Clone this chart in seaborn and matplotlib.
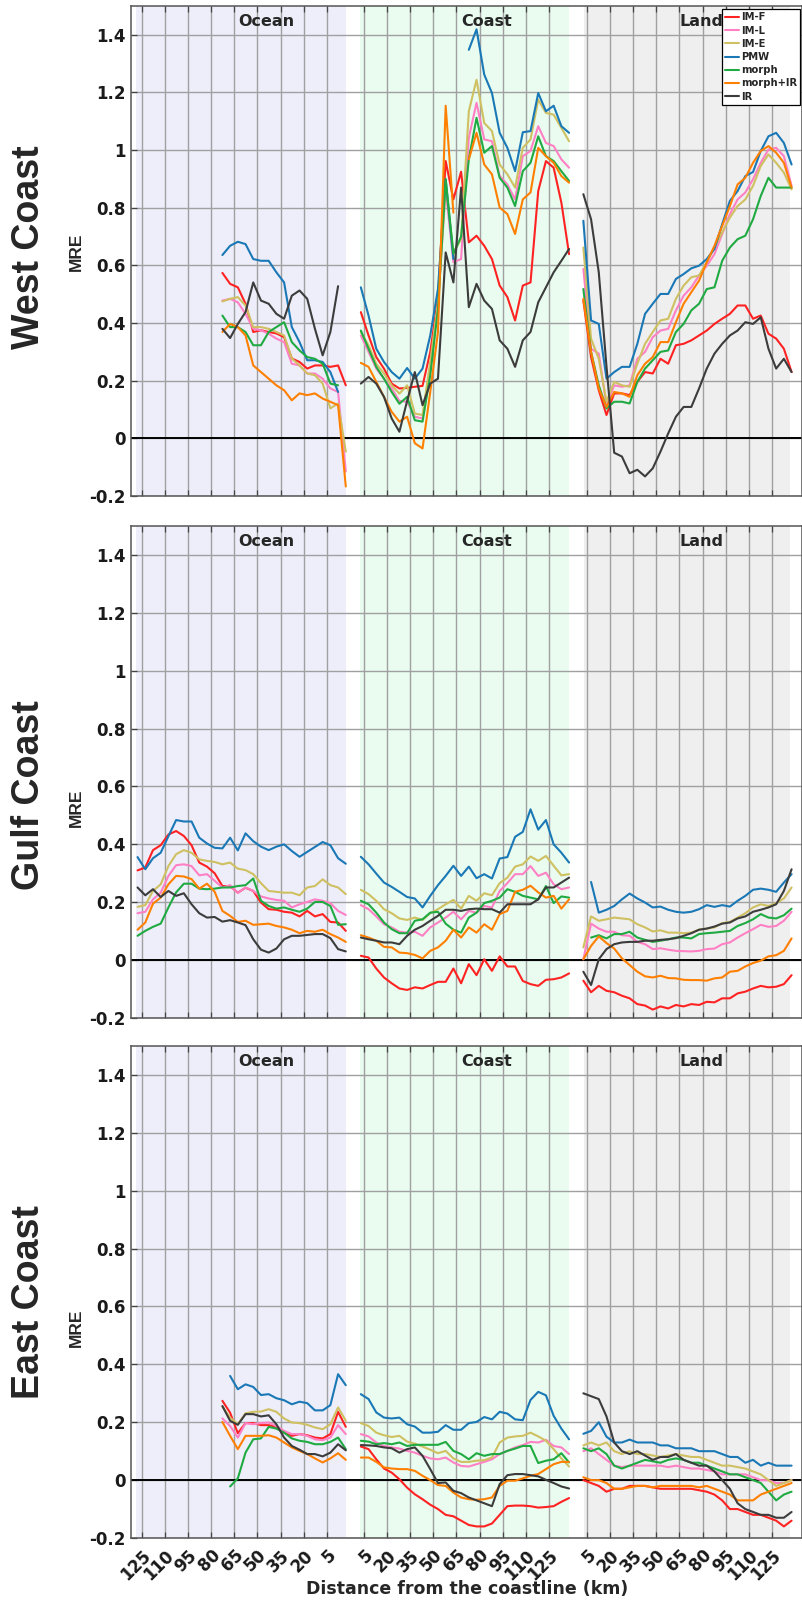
import matplotlib
matplotlib.use("Agg")
import matplotlib.pyplot as plt
import seaborn as sns
import pandas as pd
from matplotlib.lines import Line2D

N = None
PRODUCTS = ["IM-F", "IM-L", "IM-E", "PMW", "morph", "morph+IR", "IR"]
COLORS = ["#ff2222", "#ff80c4", "#cfc062", "#1a78b6", "#1faa42", "#ff8000", "#3c3c3c"]
PANELS = ["West Coast", "Gulf Coast", "East Coast"]
REGIONS = ["Ocean", "Coast", "Land"]
OCEAN_TICKS = [125, 110, 95, 80, 65, 50, 35, 20, 5]
SHORE_TICKS = [5, 20, 35, 50, 65, 80, 95, 110, 125]
YTICKS = [-0.2, 0, 0.2, 0.4, 0.6, 0.8, 1, 1.2, 1.4]
YTICKLABELS = ["-0.2", "0", "0.2", "0.4", "0.6", "0.8", "1", "1.2", "1.4"]
XLABEL = "Distance from the coastline (km)"
YLABEL = "MRE"

# ---------------- West Coast ----------------
WEST_OCEAN = {
    "IM-F": [N]*11 + [0.574, 0.536, 0.524, 0.467, 0.369, 0.375, 0.369, 0.364, 0.351, 0.277, 0.265, 0.242, 0.253, 0.253, 0.248, 0.253, 0.184],
    "IM-L": [N]*11 + [0.478, 0.484, 0.472, 0.432, 0.380, 0.375, 0.363, 0.346, 0.334, 0.259, 0.253, 0.225, 0.225, 0.207, 0.173, 0.161, -0.115],
    "IM-E": [N]*11 + [0.475, 0.484, 0.490, 0.461, 0.386, 0.386, 0.380, 0.369, 0.357, 0.277, 0.253, 0.225, 0.219, 0.190, 0.104, 0.121, -0.046],
    "PMW": [N]*11 + [0.636, 0.668, 0.682, 0.674, 0.622, 0.616, 0.616, 0.576, 0.541, 0.386, 0.334, 0.271, 0.271, 0.265, 0.230, 0.161, N],
    "morph": [N]*11 + [0.426, 0.386, 0.386, 0.369, 0.323, 0.323, 0.369, 0.386, 0.403, 0.334, 0.305, 0.282, 0.276, 0.259, 0.190, 0.184, N],
    "morph+IR": [N]*11 + [0.369, 0.397, 0.386, 0.357, 0.253, 0.230, 0.207, 0.184, 0.167, 0.132, 0.156, 0.150, 0.156, 0.138, 0.127, 0.115, -0.167],
    "IR": [N]*11 + [0.380, 0.348, 0.397, 0.438, 0.541, 0.478, 0.467, 0.432, 0.415, 0.495, 0.513, 0.484, 0.380, 0.288, 0.369, 0.528, N],
}
WEST_COAST = {
    "IM-F": [0.438, 0.357, 0.282, 0.242, 0.190, 0.173, 0.175, 0.179, 0.182, 0.300, 0.484, 0.962, 0.829, 0.925, 0.680, 0.703, 0.668, 0.622, 0.530, 0.490, 0.409, 0.530, 0.541, 0.858, 0.962, 0.939, 0.818, 0.639],
    "IM-L": [0.357, 0.300, 0.242, 0.207, 0.173, 0.130, 0.127, 0.075, 0.069, 0.253, 0.461, 0.864, 0.611, 0.622, 1.043, 1.164, 1.037, 1.031, 0.910, 0.881, 0.829, 0.979, 0.997, 1.083, 1.025, 1.014, 0.968, 0.939],
    "IM-E": [0.369, 0.323, 0.259, 0.225, 0.184, 0.155, 0.184, 0.086, 0.081, 0.265, 0.470, 0.876, 0.645, 0.691, 1.135, 1.244, 1.094, 1.066, 0.950, 0.916, 0.870, 1.008, 1.037, 1.175, 1.129, 1.123, 1.077, 1.031],
    "PMW": [0.524, 0.426, 0.311, 0.265, 0.230, 0.207, 0.244, 0.207, 0.242, 0.357, 0.518, 0.899, 0.622, N, 1.348, 1.419, 1.262, 1.198, 1.060, 1.008, 0.927, 1.062, 1.066, 1.198, 1.135, 1.154, 1.083, 1.060],
    "morph": [0.374, 0.311, 0.248, 0.207, 0.161, 0.120, 0.144, 0.063, 0.058, 0.219, 0.449, 0.899, 0.640, 0.700, 0.968, 1.112, 0.991, 1.014, 0.904, 0.870, 0.806, 0.927, 0.956, 1.048, 0.979, 0.962, 0.927, 0.893],
    "morph+IR": [0.262, 0.248, 0.196, 0.144, 0.092, 0.058, 0.075, -0.017, -0.035, 0.161, 0.369, 1.154, 0.783, N, 0.968, 1.060, 0.950, 0.916, 0.801, 0.778, 0.709, 0.829, 0.853, 1.008, 0.979, 0.956, 0.910, 0.887],
    "IR": [0.190, 0.213, 0.190, 0.144, 0.069, 0.023, 0.130, 0.230, 0.115, 0.190, 0.207, 0.645, 0.541, 0.870, 0.455, 0.536, 0.478, 0.449, 0.340, 0.311, 0.248, 0.340, 0.369, 0.472, 0.524, 0.576, 0.616, 0.657],
}
WEST_LAND = {
    "IM-F": [0.478, 0.282, 0.167, 0.081, 0.156, 0.156, 0.150, 0.196, 0.230, 0.225, 0.276, 0.259, 0.323, 0.328, 0.340, 0.357, 0.374, 0.397, 0.415, 0.432, 0.461, 0.461, 0.415, 0.426, 0.363, 0.346, 0.311, 0.230],
    "IM-L": [0.588, 0.311, 0.294, 0.115, 0.184, 0.179, 0.184, 0.276, 0.300, 0.351, 0.374, 0.380, 0.444, 0.495, 0.524, 0.565, 0.599, 0.639, 0.709, 0.778, 0.829, 0.853, 0.899, 0.956, 1.002, 1.008, 0.979, 0.876],
    "IM-E": [0.662, 0.346, 0.276, 0.127, 0.196, 0.184, 0.179, 0.259, 0.328, 0.369, 0.409, 0.415, 0.484, 0.530, 0.559, 0.565, 0.611, 0.662, 0.714, 0.766, 0.806, 0.829, 0.876, 0.945, 0.985, 0.956, 0.922, 0.864],
    "PMW": [0.755, 0.409, 0.397, 0.207, 0.230, 0.248, 0.248, 0.328, 0.432, 0.467, 0.501, 0.501, 0.553, 0.570, 0.590, 0.599, 0.622, 0.657, 0.743, 0.824, 0.858, 0.910, 0.924, 0.997, 1.048, 1.060, 1.025, 0.950],
    "morph": [0.518, 0.300, 0.184, 0.104, 0.127, 0.127, 0.121, 0.196, 0.242, 0.271, 0.300, 0.305, 0.369, 0.397, 0.444, 0.467, 0.518, 0.524, 0.616, 0.662, 0.691, 0.703, 0.760, 0.841, 0.904, 0.870, 0.870, 0.870],
    "morph+IR": [0.484, 0.300, 0.173, 0.109, 0.161, 0.156, 0.144, 0.219, 0.259, 0.282, 0.334, 0.334, 0.403, 0.467, 0.507, 0.547, 0.611, 0.668, 0.737, 0.806, 0.881, 0.904, 0.956, 0.997, 1.014, 0.991, 0.956, 0.870],
    "IR": [0.847, 0.760, 0.576, 0.250, -0.050, -0.063, -0.121, -0.109, -0.132, -0.104, -0.046, 0.017, 0.075, 0.109, 0.109, 0.173, 0.242, 0.294, 0.328, 0.357, 0.374, 0.403, 0.397, 0.420, 0.311, 0.242, 0.276, 0.230],
}

# ---------------- Gulf Coast ----------------
GULF_OCEAN = {
    "IM-F": [0.310, 0.320, 0.380, 0.397, 0.434, 0.446, 0.429, 0.397, 0.337, 0.323, 0.300, 0.256, 0.256, 0.233, 0.250, 0.239, 0.199, 0.176, 0.174, 0.167, 0.164, 0.151, 0.170, 0.151, 0.159, 0.132, 0.130, 0.101],
    "IM-L": [0.162, 0.167, 0.210, 0.233, 0.291, 0.328, 0.331, 0.325, 0.293, 0.297, 0.274, 0.251, 0.259, 0.232, 0.251, 0.239, 0.220, 0.213, 0.208, 0.205, 0.182, 0.193, 0.201, 0.210, 0.205, 0.197, 0.170, 0.156],
    "IM-E": [0.184, 0.190, 0.239, 0.262, 0.325, 0.366, 0.380, 0.371, 0.348, 0.343, 0.339, 0.331, 0.337, 0.316, 0.311, 0.297, 0.266, 0.239, 0.236, 0.233, 0.233, 0.224, 0.251, 0.256, 0.279, 0.259, 0.251, 0.228],
    "PMW": [0.356, 0.314, 0.352, 0.371, 0.428, 0.484, 0.479, 0.479, 0.423, 0.403, 0.388, 0.386, 0.423, 0.379, 0.438, 0.411, 0.392, 0.380, 0.392, 0.400, 0.377, 0.357, 0.374, 0.391, 0.408, 0.397, 0.352, 0.333],
    "morph": [0.084, 0.101, 0.115, 0.126, 0.182, 0.234, 0.264, 0.264, 0.247, 0.245, 0.247, 0.251, 0.251, 0.256, 0.259, 0.282, 0.205, 0.187, 0.178, 0.182, 0.174, 0.167, 0.178, 0.201, 0.201, 0.187, 0.122, 0.124],
    "morph+IR": [0.105, 0.130, 0.195, 0.216, 0.262, 0.291, 0.289, 0.280, 0.247, 0.264, 0.236, 0.170, 0.153, 0.132, 0.136, 0.122, 0.124, 0.126, 0.118, 0.113, 0.105, 0.093, 0.101, 0.098, 0.105, 0.090, 0.078, 0.063],
    "IR": [0.251, 0.224, 0.245, 0.218, 0.239, 0.222, 0.231, 0.193, 0.162, 0.147, 0.149, 0.133, 0.138, 0.130, 0.121, 0.072, 0.036, 0.026, 0.040, 0.072, 0.084, 0.084, 0.087, 0.090, 0.090, 0.076, 0.038, 0.030],
}
GULF_COAST = {
    "IM-F": [0.015, 0.009, -0.029, -0.060, -0.080, -0.098, -0.103, -0.094, -0.098, -0.086, -0.075, -0.075, -0.029, -0.080, -0.014, -0.052, 0.003, -0.037, 0.013, -0.022, -0.022, -0.072, -0.083, -0.089, -0.068, -0.066, -0.060, -0.046],
    "IM-L": [0.190, 0.176, 0.151, 0.124, 0.113, 0.098, 0.095, 0.098, 0.084, 0.113, 0.130, 0.147, 0.167, 0.141, 0.170, 0.164, 0.187, 0.182, 0.239, 0.266, 0.297, 0.297, 0.325, 0.291, 0.302, 0.262, 0.245, 0.251],
    "IM-E": [0.243, 0.228, 0.205, 0.176, 0.162, 0.144, 0.139, 0.147, 0.139, 0.162, 0.176, 0.193, 0.208, 0.178, 0.222, 0.205, 0.231, 0.224, 0.266, 0.285, 0.323, 0.331, 0.358, 0.343, 0.360, 0.326, 0.293, 0.297],
    "PMW": [0.357, 0.331, 0.299, 0.268, 0.253, 0.236, 0.218, 0.213, 0.182, 0.222, 0.259, 0.291, 0.326, 0.291, 0.323, 0.283, 0.297, 0.282, 0.351, 0.356, 0.426, 0.443, 0.521, 0.451, 0.484, 0.400, 0.371, 0.337],
    "morph": [0.205, 0.193, 0.164, 0.130, 0.107, 0.093, 0.093, 0.136, 0.141, 0.164, 0.167, 0.126, 0.105, 0.095, 0.147, 0.164, 0.197, 0.205, 0.216, 0.245, 0.236, 0.222, 0.216, 0.210, 0.256, 0.197, 0.220, 0.216],
    "morph+IR": [0.086, 0.078, 0.067, 0.046, 0.044, 0.026, 0.024, 0.018, 0.006, 0.032, 0.044, 0.067, 0.105, 0.078, 0.113, 0.095, 0.124, 0.105, 0.159, 0.170, 0.236, 0.243, 0.257, 0.234, 0.216, 0.222, 0.178, 0.210],
    "IR": [0.078, 0.072, 0.067, 0.061, 0.061, 0.055, 0.084, 0.105, 0.118, 0.136, 0.153, 0.174, 0.174, 0.170, 0.176, 0.178, 0.176, 0.176, 0.164, 0.193, 0.193, 0.193, 0.193, 0.210, 0.251, 0.251, 0.268, 0.285],
}
GULF_LAND = {
    "IM-F": [-0.071, -0.111, -0.089, -0.106, -0.111, -0.123, -0.132, -0.152, -0.157, -0.171, -0.160, -0.167, -0.155, -0.160, -0.152, -0.155, -0.144, -0.146, -0.132, -0.132, -0.115, -0.109, -0.098, -0.089, -0.094, -0.092, -0.083, -0.052],
    "IM-L": [0.003, 0.126, 0.109, 0.098, 0.098, 0.086, 0.084, 0.063, 0.055, 0.038, 0.041, 0.036, 0.032, 0.031, 0.030, 0.032, 0.038, 0.040, 0.055, 0.061, 0.078, 0.093, 0.107, 0.122, 0.115, 0.118, 0.136, 0.167],
    "IM-E": [0.044, 0.151, 0.136, 0.141, 0.147, 0.144, 0.141, 0.124, 0.113, 0.099, 0.103, 0.095, 0.095, 0.093, 0.095, 0.105, 0.109, 0.113, 0.128, 0.132, 0.147, 0.162, 0.182, 0.193, 0.187, 0.197, 0.213, 0.251],
    "PMW": [N, 0.270, 0.164, 0.174, 0.187, 0.210, 0.230, 0.213, 0.199, 0.182, 0.185, 0.174, 0.167, 0.164, 0.167, 0.176, 0.190, 0.184, 0.190, 0.185, 0.205, 0.222, 0.243, 0.247, 0.243, 0.236, 0.268, 0.297],
    "morph": [N, 0.078, 0.086, 0.075, 0.090, 0.090, 0.098, 0.078, 0.070, 0.063, 0.067, 0.072, 0.078, 0.078, 0.075, 0.090, 0.093, 0.095, 0.098, 0.101, 0.118, 0.128, 0.141, 0.159, 0.147, 0.144, 0.155, 0.178],
    "morph+IR": [0.003, 0.049, 0.082, 0.059, 0.040, 0.006, -0.017, -0.040, -0.056, -0.060, -0.054, -0.062, -0.063, -0.068, -0.069, -0.069, -0.071, -0.063, -0.060, -0.040, -0.037, -0.022, -0.010, -0.002, 0.013, 0.017, 0.032, 0.075],
    "IR": [-0.040, -0.086, 0.003, 0.038, 0.055, 0.061, 0.063, 0.063, 0.067, 0.067, 0.070, 0.072, 0.076, 0.084, 0.093, 0.105, 0.109, 0.116, 0.126, 0.130, 0.144, 0.151, 0.167, 0.174, 0.182, 0.193, 0.239, 0.314],
}

# ---------------- East Coast ----------------
EAST_OCEAN = {
    "IM-F": [N]*11 + [0.274, 0.233, 0.162, 0.197, 0.197, 0.190, 0.190, 0.184, 0.164, 0.153, 0.159, 0.155, 0.147, 0.144, 0.159, 0.236, 0.184],
    "IM-L": [N]*11 + [0.213, 0.187, 0.147, 0.197, 0.193, 0.197, 0.199, 0.187, 0.170, 0.159, 0.159, 0.153, 0.141, 0.138, 0.147, 0.190, 0.159],
    "IM-E": [N]*11 + [0.254, 0.216, 0.193, 0.231, 0.236, 0.237, 0.245, 0.236, 0.213, 0.199, 0.197, 0.191, 0.182, 0.176, 0.193, 0.251, 0.205],
    "PMW": [N]*12 + [0.360, 0.314, 0.331, 0.322, 0.294, 0.297, 0.283, 0.276, 0.262, 0.271, 0.266, 0.241, 0.241, 0.259, 0.366, 0.328],
    "morph": [N]*12 + [-0.022, 0.006, 0.095, 0.141, 0.144, 0.184, 0.178, 0.164, 0.144, 0.136, 0.132, 0.124, 0.124, 0.132, 0.147, 0.107],
    "morph+IR": [N]*11 + [0.201, 0.153, 0.107, 0.153, 0.153, 0.153, 0.155, 0.147, 0.130, 0.113, 0.101, 0.090, 0.075, 0.061, 0.075, 0.093, 0.070],
    "IR": [N]*11 + [0.256, 0.205, 0.191, 0.228, 0.228, 0.220, 0.224, 0.193, 0.147, 0.118, 0.105, 0.090, 0.090, 0.082, 0.095, 0.124, 0.103],
}
EAST_COAST = {
    "IM-F": [0.116, 0.107, 0.072, 0.040, 0.026, 0.003, -0.026, -0.049, -0.066, -0.085, -0.100, -0.120, -0.125, -0.140, -0.155, -0.160, -0.160, -0.150, -0.120, -0.090, -0.088, -0.088, -0.090, -0.095, -0.093, -0.090, -0.075, -0.062],
    "IM-L": [0.159, 0.151, 0.130, 0.118, 0.113, 0.109, 0.101, 0.095, 0.084, 0.075, 0.072, 0.078, 0.061, 0.049, 0.047, 0.055, 0.063, 0.072, 0.090, 0.101, 0.113, 0.121, 0.132, 0.130, 0.139, 0.118, 0.113, 0.090],
    "IM-E": [0.197, 0.187, 0.164, 0.155, 0.149, 0.153, 0.133, 0.126, 0.116, 0.105, 0.093, 0.101, 0.075, 0.063, 0.063, 0.067, 0.069, 0.078, 0.130, 0.147, 0.151, 0.153, 0.164, 0.151, 0.136, 0.107, 0.075, 0.047],
    "PMW": [0.297, 0.280, 0.234, 0.216, 0.213, 0.216, 0.193, 0.185, 0.164, 0.164, 0.167, 0.190, 0.174, 0.174, 0.197, 0.201, 0.218, 0.210, 0.236, 0.230, 0.210, 0.207, 0.277, 0.305, 0.293, 0.222, 0.178, 0.141],
    "morph": [0.136, 0.133, 0.124, 0.128, 0.124, 0.130, 0.118, 0.122, 0.122, 0.122, 0.122, 0.132, 0.101, 0.090, 0.072, 0.093, 0.084, 0.090, 0.090, 0.101, 0.109, 0.118, 0.118, 0.059, 0.067, 0.072, 0.093, 0.061],
    "morph+IR": [0.078, 0.078, 0.063, 0.044, 0.040, 0.038, 0.038, 0.032, 0.015, 0.000, -0.017, -0.020, -0.043, -0.060, -0.066, -0.068, -0.066, -0.060, -0.020, -0.002, -0.002, 0.006, 0.015, 0.021, 0.038, 0.055, 0.063, 0.063],
    "IR": [0.121, 0.120, 0.118, 0.113, 0.110, 0.095, 0.107, 0.113, 0.084, 0.038, -0.010, -0.008, -0.037, -0.045, -0.060, -0.070, -0.080, -0.090, -0.014, 0.017, 0.021, 0.021, 0.017, 0.013, 0.001, -0.010, -0.022, -0.029],
}
EAST_LAND = {
    "IM-F": [0.000, -0.010, -0.020, -0.040, -0.030, -0.030, -0.020, -0.020, -0.020, -0.025, -0.030, -0.030, -0.030, -0.030, -0.030, -0.035, -0.040, -0.050, -0.070, -0.100, -0.100, -0.110, -0.120, -0.120, -0.130, -0.140, -0.160, -0.140],
    "IM-L": [0.100, 0.110, 0.090, 0.070, 0.050, 0.045, 0.050, 0.050, 0.050, 0.050, 0.050, 0.045, 0.050, 0.045, 0.040, 0.040, 0.035, 0.030, 0.020, 0.020, 0.020, 0.020, 0.010, 0.000, 0.000, -0.010, -0.010, 0.000],
    "IM-E": [0.120, 0.130, 0.120, 0.130, 0.100, 0.090, 0.100, 0.090, 0.090, 0.085, 0.080, 0.085, 0.090, 0.085, 0.080, 0.080, 0.070, 0.060, 0.050, 0.050, 0.045, 0.040, 0.030, 0.020, 0.000, -0.020, -0.010, 0.000],
    "PMW": [0.160, 0.170, 0.200, 0.150, 0.130, 0.130, 0.140, 0.130, 0.130, 0.130, 0.120, 0.120, 0.110, 0.110, 0.110, 0.100, 0.100, 0.100, 0.090, 0.080, 0.080, 0.060, 0.070, 0.050, 0.060, 0.050, 0.050, 0.050],
    "morph": [0.110, 0.100, 0.110, 0.090, 0.050, 0.040, 0.050, 0.060, 0.070, 0.065, 0.060, 0.070, 0.075, 0.070, 0.060, 0.060, 0.050, 0.040, 0.030, 0.020, 0.020, 0.010, 0.000, -0.010, -0.040, -0.070, -0.050, -0.040],
    "morph+IR": [0.010, 0.000, 0.000, -0.010, -0.030, -0.030, -0.025, -0.020, -0.020, -0.025, -0.020, -0.020, -0.020, -0.020, -0.020, -0.025, -0.020, -0.030, -0.040, -0.050, -0.070, -0.070, -0.070, -0.050, -0.040, -0.030, -0.020, -0.010],
    "IR": [0.300, 0.290, 0.280, 0.220, 0.130, 0.100, 0.090, 0.100, 0.085, 0.070, 0.080, 0.080, 0.090, 0.070, 0.060, 0.050, 0.050, 0.030, 0.000, -0.030, -0.080, -0.100, -0.110, -0.120, -0.120, -0.130, -0.130, -0.110],
}

DATA = {
    "West Coast": {"Ocean": WEST_OCEAN, "Coast": WEST_COAST, "Land": WEST_LAND},
    "Gulf Coast": {"Ocean": GULF_OCEAN, "Coast": GULF_COAST, "Land": GULF_LAND},
    "East Coast": {"Ocean": EAST_OCEAN, "Coast": EAST_COAST, "Land": EAST_LAND},
}

# ---------------- layout (axis units: one 5-km bin = 1) ----------------
X0 = {"Ocean": 0.85, "Coast": 29.8, "Land": 58.65}
SHADE = {"Ocean": ("#eeeefa", 0.65, 27.85), "Coast": ("#e9fcef", 29.7, 56.75), "Land": ("#f0efef", 58.75, 85.45)}
TITLE_X = {"Ocean": 17.6, "Coast": 46.1, "Land": 74.0}
XLIM = (0, 87)
YLIM = (-0.2, 1.5)
W, H = 803, 1609
AX_PX = [(6, 496), (526, 1018), (1046, 1538)]
ROW_LABEL_Y = [247, 795, 1302]
MRE_Y = [252, 808, 1328]


def tick_positions(region):
    if region == "Ocean":
        return [X0["Ocean"] + 0.55 + (125 - d) / 5 for d in OCEAN_TICKS]
    off = 0.4 if region == "Coast" else 0.45
    return [X0[region] + off + (d - 5) / 5 for d in SHORE_TICKS]


def long_frame(panel):
    rows = []
    seg = 0
    for region in REGIONS:
        for prod in PRODUCTS:
            vals = DATA[panel][region][prod]
            seg += 1
            for i, v in enumerate(vals):
                if v is None:
                    seg += 1
                    continue
                rows.append({"x": X0[region] + i, "MRE": v, "product": prod,
                             "seg": f"{region}-{prod}-{seg}"})
    return pd.DataFrame(rows)


sns.set_theme(style="white")
plt.rcParams["font.family"] = ["DejaVu Sans"]
plt.rcParams["font.weight"] = "bold"
plt.rcParams["axes.labelweight"] = "bold"

fig = plt.figure(figsize=(W / 100, H / 100), dpi=100)
palette = dict(zip(PRODUCTS, COLORS))

xt_pos = tick_positions("Ocean") + tick_positions("Coast") + tick_positions("Land")
xt_lab = [str(v) for v in OCEAN_TICKS] + [str(v) for v in SHORE_TICKS] * 2

for pi, panel in enumerate(PANELS):
    top, bot = AX_PX[pi]
    ax = fig.add_axes([131 / W, 1 - bot / H, 671 / W, (bot - top) / H])
    for region in REGIONS:
        c, a, b = SHADE[region]
        ax.axvspan(a, b, color=c, zorder=0, lw=0)
    df = long_frame(panel)
    sns.lineplot(data=df, x="x", y="MRE", hue="product", units="seg", estimator=None,
                 palette=palette, hue_order=PRODUCTS, sort=False, legend=False,
                 linewidth=1.5, ax=ax, zorder=3)
    ax.axhline(0, color="black", lw=1.4, zorder=2)
    ax.set_xlim(*XLIM)
    ax.set_ylim(*YLIM)
    ax.set_yticks(YTICKS)
    ax.set_yticklabels(YTICKLABELS)
    ax.set_xticks(xt_pos)
    if pi == 2:
        ax.set_xticklabels(xt_lab, rotation=45, ha="right", rotation_mode="anchor")
    else:
        ax.set_xticklabels([])
    ax.set_xlabel("")
    ax.set_ylabel("")
    ax.set_axisbelow(True)
    ax.grid(True, color="#a0a0a0", lw=1.0, zorder=1)
    ax.tick_params(axis="both", direction="in", length=4, width=0.9, color="#444444",
                   top=True, bottom=True, left=True, right=False, labelsize=12, pad=4)
    ax.tick_params(axis="x", pad=6)
    for lab in ax.get_xticklabels() + ax.get_yticklabels():
        lab.set_fontweight("bold")
        lab.set_color("#1a1a1a")
    for s in ax.spines.values():
        s.set_color("#555555")
        s.set_linewidth(1.1)
    for region in REGIONS:
        ax.text(TITLE_X[region], 1.445, region, ha="center", va="center",
                fontsize=11.5, fontweight="bold", zorder=4)
    fig.text(29 / W, 1 - ROW_LABEL_Y[pi] / H, panel, rotation=90, ha="center", va="center",
             fontsize=27, fontweight="bold", family=["Liberation Sans", "DejaVu Sans"])
    fig.text(76 / W, 1 - MRE_Y[pi] / H, YLABEL, rotation=90, ha="center", va="center",
             fontsize=12.5, fontweight="bold", family=["Liberation Sans", "DejaVu Sans"])
    if pi == 0:
        handles = [Line2D([0], [0], color=c, lw=1.5) for c in COLORS]
        leg = ax.legend(handles, PRODUCTS, loc="upper right", bbox_to_anchor=(0.997, 0.993),
                        fontsize=7.2, frameon=True, fancybox=False, edgecolor="black",
                        framealpha=1, handlelength=1.35, handletextpad=0.2,
                        labelspacing=0.32, borderpad=0.3, borderaxespad=0)
        leg.get_frame().set_linewidth(0.9)
        leg.set_zorder(10)
        for t in leg.get_texts():
            t.set_fontweight("bold")

fig.text(467 / W, 1 - 1589 / H, XLABEL, ha="center", va="center", fontsize=12.5, fontweight="bold")

fig.savefig("out.png", dpi=100)
